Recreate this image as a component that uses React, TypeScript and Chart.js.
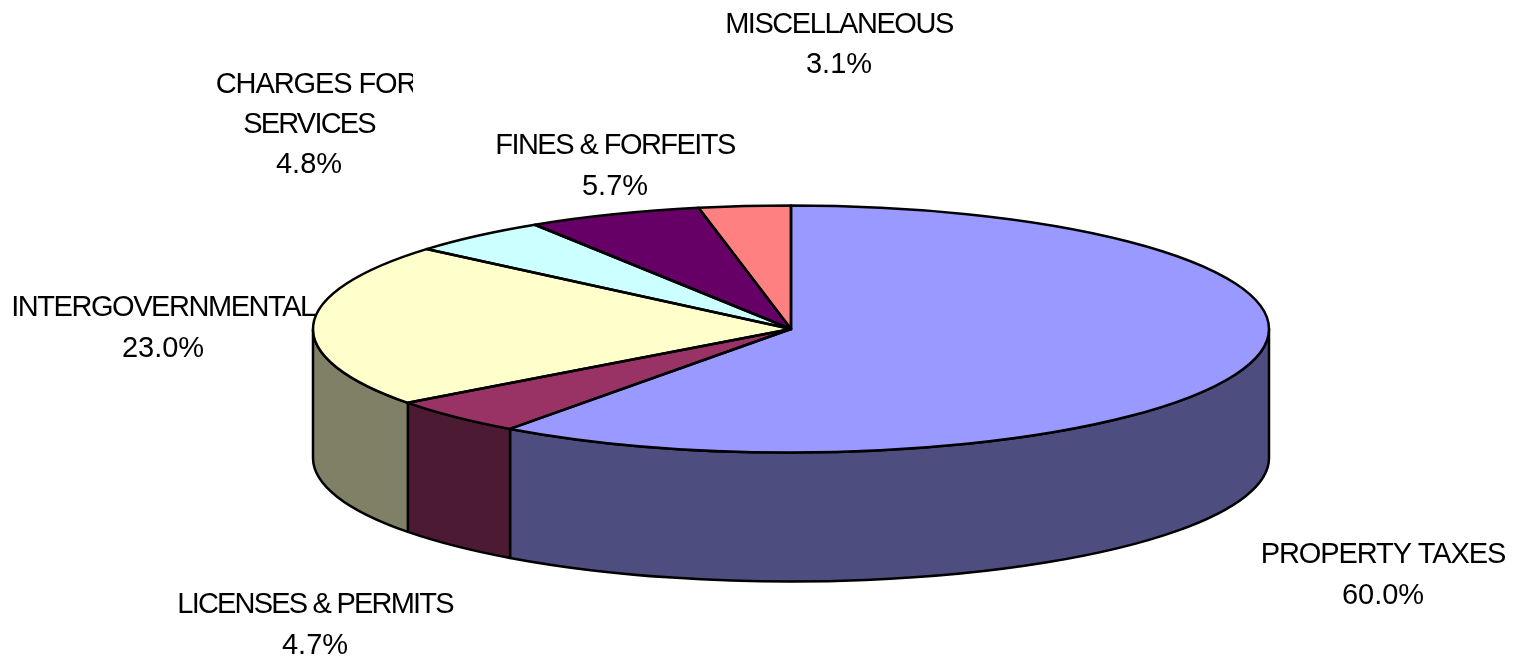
import React, { useEffect, useRef } from "react";
import { Chart, registerables } from "chart.js";

Chart.register(...registerables);

const categories = ["PROPERTY TAXES", "LICENSES & PERMITS", "INTERGOVERNMENTAL", "CHARGES FOR SERVICES", "FINES & FORFEITS", "MISCELLANEOUS"];
// Printed percentages
const printedPercent = ["60.0%", "4.7%", "23.0%", "4.8%", "5.7%", "3.1%"];
const sliceValues = [60.0, 4.8, 21.4, 4.8, 5.9, 3.1];
const topColors = ["#9999ff", "#993366", "#ffffcc", "#ccffff", "#660066", "#ff8080"];
const sideColors = ["#4d4d80", "#4d1a33", "#808066", "#668080", "#330033", "#804040"];

const CX = 791, CY = 329, RX = 478, RY = 123.5, DEPTH = 129;

const labelLayout: any[] = [
  { x: 1383, y: [563, 604], lines: ["PROPERTY TAXES"], spacing: [-1.1] },
  { x: 315, y: [613, 654], lines: ["LICENSES & PERMITS"], spacing: [-1.8] },
  { x: 163, y: [316, 357], lines: ["INTERGOVERNMENTAL"], spacing: [-1.45], clipRight: 316 },
  { x: 309, lineX: [316, 309], y: [93, 133, 173], lines: ["CHARGES FOR", "SERVICES"], spacing: [-1.1, -1.8], clipRight: 413 },
  { x: 615, y: [154, 195], lines: ["FINES & FORFEITS"], spacing: [-1.55] },
  { x: 839, y: [33, 73], lines: ["MISCELLANEOUS"], spacing: [-1.45] },
];

const pie3d = {
  id: "pie3d",
  beforeDatasetsDraw(chart: any) {
    const ctx = chart.ctx;
    const arcs = chart.getDatasetMeta(0).data;
    ctx.save();
    ctx.lineWidth = 2.5;
    ctx.strokeStyle = "#000";
    ctx.lineJoin = "round";
    arcs.forEach((arc: any, i: number) => {
      // only the part of each slice facing the viewer (0..PI) has a wall
      const a = Math.max(arc.startAngle, 0);
      const b = Math.min(arc.endAngle, Math.PI);
      if (b <= a) return;
      ctx.beginPath();
      ctx.ellipse(CX, CY, RX, RY, 0, a, b);
      ctx.ellipse(CX, CY + DEPTH, RX, RY, 0, b, a, true);
      ctx.closePath();
      ctx.fillStyle = sideColors[i];
      ctx.fill();
      ctx.stroke();
    });
    ctx.restore();
    const first = arcs[0];
    ctx.save();
    ctx.translate(CX, CY);
    ctx.scale(RX / first.outerRadius, RY / first.outerRadius);
    ctx.translate(-first.x, -first.y);
  },
  afterDatasetsDraw(chart: any) {
    const ctx = chart.ctx;
    ctx.restore();
    const arcs = chart.getDatasetMeta(0).data;
    ctx.save();
    ctx.lineWidth = 2.5;
    ctx.strokeStyle = "#000";
    ctx.lineJoin = "round";
    arcs.forEach((arc: any) => {
      ctx.beginPath();
      ctx.moveTo(CX, CY);
      ctx.ellipse(CX, CY, RX, RY, 0, arc.startAngle, arc.endAngle);
      ctx.closePath();
      ctx.stroke();
    });
    ctx.restore();

    ctx.save();
    ctx.fillStyle = "#000";
    ctx.textAlign = "center";
    ctx.textBaseline = "alphabetic";
    ctx.font = '29px "Liberation Sans"';
    labelLayout.forEach((l, i) => {
      ctx.save();
      if (l.clipRight) {
        ctx.beginPath();
        ctx.rect(0, 0, l.clipRight, 657);
        ctx.clip();
      }
      l.lines.forEach((t: string, j: number) => {
        ctx.letterSpacing = l.spacing[j] + "px";
        ctx.fillText(t, l.lineX ? l.lineX[j] : l.x, l.y[j]);
      });
      ctx.letterSpacing = "0px";
      ctx.fillText(printedPercent[i], l.x, l.y[l.lines.length]);
      ctx.restore();
    });
    ctx.restore();
  },
};

export default function App() {
  const ref = useRef<HTMLCanvasElement>(null);
  useEffect(() => {
    document.body.style.margin = "0";
    document.body.style.background = "#fff";
    const chart = new Chart(ref.current!, {
      type: "pie",
      data: {
        labels: categories,
        datasets: [{ data: sliceValues, backgroundColor: topColors, borderWidth: 0, clip: false } as any],
      },
      options: {
        animation: false,
        responsive: false,
        rotation: 0,
        layout: { padding: 0 },
        plugins: { legend: { display: false }, tooltip: { enabled: false } },
      },
      plugins: [pie3d],
    } as any);
    return () => chart.destroy();
  }, []);
  return <canvas ref={ref} width={1514} height={657} style={{ display: "block" }} />;
}
